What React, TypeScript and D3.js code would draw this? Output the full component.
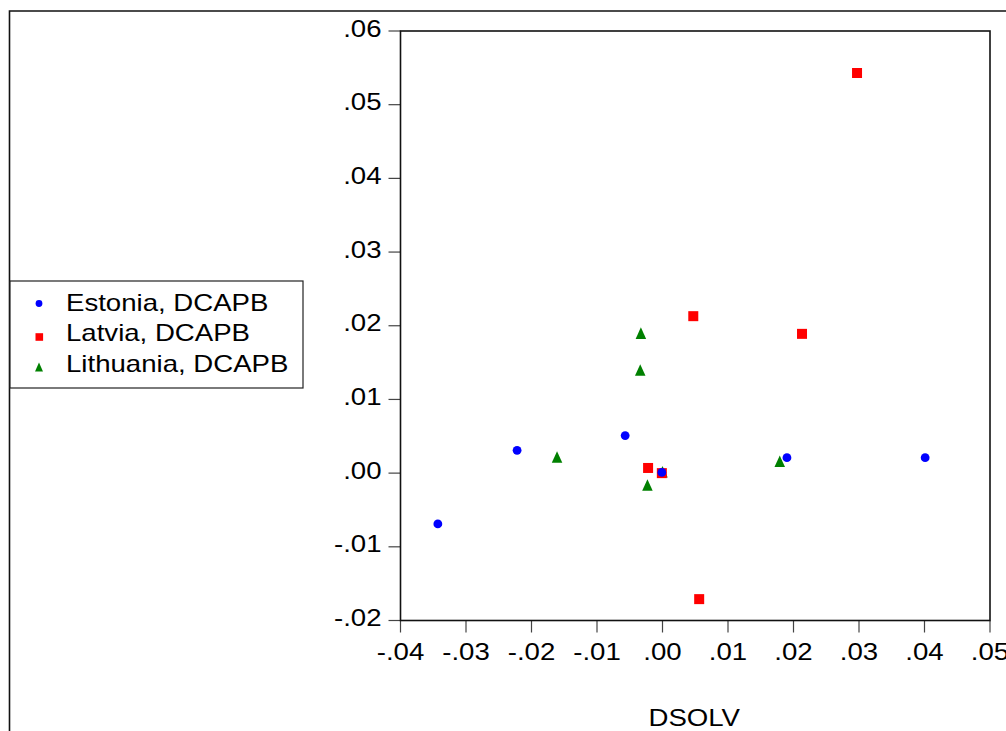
import React from 'react'
import * as d3 from 'd3'

// values
const estoniaX = [-0.0343, -0.0222, -0.0057, -0.0001, 0.019, 0.0401]
const estoniaY = [-0.0069, 0.0031, 0.0051, 0.0001, 0.0021, 0.0021]
const latviaX = [0.0297, 0.0047, 0.0213, -0.0022, -0.0001, 0.0056]
const latviaY = [0.0543, 0.0213, 0.0189, 0.0007, 0.0, -0.0171]
const lithuaniaX = [-0.0033, -0.0034, -0.0161, -0.0023, 0.0179, 0.0]
const lithuaniaY = [0.019, 0.014, 0.0022, -0.0016, 0.0016, 0.0002]

const xTicks = [-0.04, -0.03, -0.02, -0.01, 0, 0.01, 0.02, 0.03, 0.04, 0.05]
const yTicks = [-0.02, -0.01, 0, 0.01, 0.02, 0.03, 0.04, 0.05, 0.06]
const legendLabels = ['Estonia, DCAPB', 'Latvia, DCAPB', 'Lithuania, DCAPB']
const xTitle = 'DSOLV'

const font = 'Arial, "Liberation Sans", sans-serif'
const fontSize = 23
const stretch = 1.2 // the picture's text is wider than plain Arial

const left = 400.5
const right = 990
const top = 31
const bottom = 620.5

// ".06" style labels, no leading zero
const fmt = (v: number) => {
	const s = Math.abs(v).toFixed(2).replace(/^0/, '')
	return v < -1e-9 ? '-' + s : s
}

const triPath = (s: number) => `M0,${-s * 0.55}L${s * 0.5},${s * 0.55}L${-s * 0.5},${s * 0.55}Z`

function Label(props: { x: number, y: number, anchor: string, text: string }) {
	return (
		<text transform={`translate(${props.x},${props.y}) scale(${stretch},1)`}
			textAnchor={props.anchor} fontFamily={font} fontSize={fontSize} fill="#000">
			{props.text}
		</text>
	)
}

export default function App() {
	const x = d3.scaleLinear().domain([-0.04, 0.05]).range([left, right])
	const y = d3.scaleLinear().domain([-0.02, 0.06]).range([bottom, top])

	const estonia = estoniaX.map((v, i) => [v, estoniaY[i]])
	const latvia = latviaX.map((v, i) => [v, latviaY[i]])
	const lithuania = lithuaniaX.map((v, i) => [v, lithuaniaY[i]])

	const legendRows = [303.5, 337, 367]
	const legendBase = [310.7, 340.9, 371.6]

	return (
		<svg width={1006} height={731} style={{ position: 'absolute', left: 0, top: 0, background: '#fff' }}>
			{/* outer frame */}
			<path d="M9.5,740V11H1010" fill="none" stroke="#111" strokeWidth={1.6} />

			{/* ticks */}
			<g stroke="#444" strokeWidth={1.2}>
				{yTicks.map(t => (
					<line key={'y' + t} x1={left - 12} x2={left} y1={y(t)} y2={y(t)} />
				))}
				{xTicks.map(t => (
					<line key={'x' + t} x1={x(t)} x2={x(t)} y1={bottom} y2={bottom + 12} />
				))}
			</g>

			{/* tick labels */}
			{yTicks.map(t => (
				<Label key={'yl' + t} x={left - 19} y={y(t) + 5.5} anchor="end" text={fmt(t)} />
			))}
			{xTicks.map(t => (
				<Label key={'xl' + t} x={x(t)} y={660} anchor="middle" text={fmt(t)} />
			))}
			<Label x={(left + right) / 2 - 1} y={726} anchor="middle" text={xTitle} />

			{/* points, drawn last series first */}
			<g fill="#008000">
				{lithuania.map((d, i) => (
					<path key={'lt' + i} d={triPath(10.5)} transform={`translate(${x(d[0])},${y(d[1])})`} />
				))}
			</g>
			<g fill="#ff0000">
				{latvia.map((d, i) => (
					<rect key={'lv' + i} x={x(d[0]) - 5} y={y(d[1]) - 5} width={10} height={10} />
				))}
			</g>
			<g fill="#0000ff">
				{estonia.map((d, i) => (
					<circle key={'ee' + i} cx={x(d[0])} cy={y(d[1])} r={4.4} />
				))}
			</g>

			{/* plot frame */}
			<rect x={left} y={top} width={right - left} height={bottom - top} fill="none" stroke="#111" strokeWidth={1.6} />

			{/* legend */}
			<rect x={10} y={281} width={293} height={107} fill="#fff" stroke="#222" strokeWidth={1.2} />
			<circle cx={39} cy={legendRows[0]} r={3.4} fill="#0000ff" />
			<rect x={35.5} y={legendRows[1] - 3.8} width={7.6} height={7.6} fill="#ff0000" />
			<path d={triPath(8)} transform={`translate(39,${legendRows[2]})`} fill="#008000" />
			{legendLabels.map((l, i) => (
				<Label key={l} x={66} y={legendBase[i]} anchor="start" text={l} />
			))}
		</svg>
	)
}
